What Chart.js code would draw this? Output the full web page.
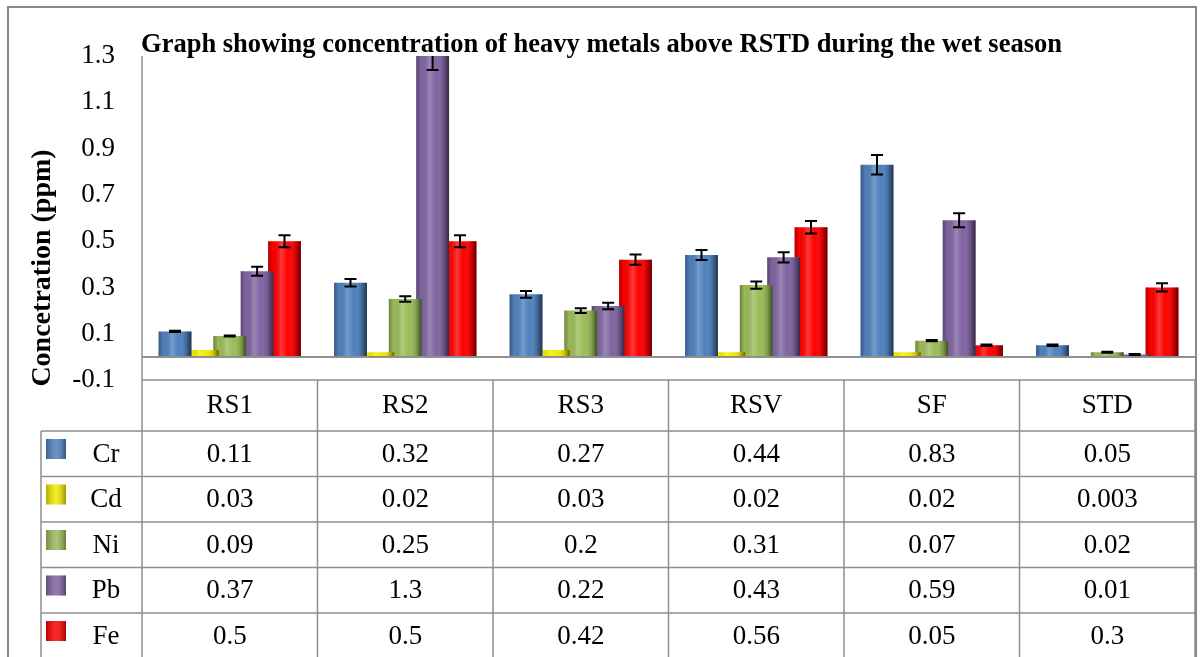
<!DOCTYPE html>
<html>
<head>
<meta charset="utf-8">
<title>Heavy metals - wet season</title>
<script src="https://cdn.jsdelivr.net/npm/chart.js@4.4.1/dist/chart.umd.min.js"></script>
<style>
  body { margin: 0; background: #fff; }
  canvas { display: block; }
</style>
</head>
<body>
<canvas id="chart" width="1203" height="657"></canvas>
<script>
const categories = ["RS1", "RS2", "RS3", "RSV", "SF", "STD"];
const metals = ["Cr", "Cd", "Ni", "Pb", "Fe"];

const crValues = [0.11, 0.32, 0.27, 0.44, 0.83, 0.05];
const cdValues = [0.03, 0.02, 0.03, 0.02, 0.02, 0.003];
const niValues = [0.09, 0.25, 0.2, 0.31, 0.07, 0.02];
const pbValues = [0.37, 1.3, 0.22, 0.43, 0.59, 0.01];
const feValues = [0.5, 0.5, 0.42, 0.56, 0.05, 0.3];

// error bar half-widths
const crErrors = [0.003, 0.016, 0.015, 0.022, 0.042, 0.003];
const cdErrors = [0, 0, 0, 0, 0, 0];
const niErrors = [0.002, 0.012, 0.01, 0.016, 0.003, 0.002];
const pbErrors = [0.019, 0.06, 0.014, 0.022, 0.03, 0.002];
const feErrors = [0.026, 0.026, 0.022, 0.027, 0.003, 0.018];

const yTicks = [-0.1, 0.1, 0.3, 0.5, 0.7, 0.9, 1.1, 1.3];

const titleText = "Graph showing concentration of heavy metals above RSTD during the wet season";
const yTitleText = "Concetration (ppm)";

const seriesValues = [crValues, cdValues, niValues, pbValues, feValues];
const seriesErrors = [crErrors, cdErrors, niErrors, pbErrors, feErrors];
const seriesColors = ["#4f81bd", "#f2ea00", "#9bbb59", "#8064a2", "#ff0000"];

const SERIF = "'Liberation Serif', 'Times New Roman', serif";
const LINE_GREY = "#8f8f8f";

const tablePlugin = {
    id: "dataTable",

    // cylinder-ish shading on top of each bar
    afterDatasetDraw(chart, args) {
        const ctx = chart.ctx;
        const area = chart.chartArea;
        ctx.save();
        ctx.beginPath();
        ctx.rect(area.left, area.top, area.right - area.left, area.bottom - area.top);
        ctx.clip();
        args.meta.data.forEach((bar) => {
            const p = bar.getProps(["x", "y", "base", "width"], true);
            const left = p.x - p.width / 2;
            const top = Math.min(p.y, p.base);
            const h = Math.abs(p.base - p.y);
            const g = ctx.createLinearGradient(left, 0, left + p.width, 0);
            g.addColorStop(0, "rgba(0,0,0,0.30)");
            g.addColorStop(0.15, "rgba(0,0,0,0)");
            g.addColorStop(0.4, "rgba(255,255,255,0.22)");
            g.addColorStop(0.6, "rgba(255,255,255,0)");
            g.addColorStop(0.85, "rgba(0,0,0,0.2)");
            g.addColorStop(1, "rgba(0,0,0,0.6)");
            ctx.fillStyle = g;
            ctx.fillRect(left, top, p.width, h);
        });
        ctx.restore();
    },

    afterDatasetsDraw(chart) {
        const ctx = chart.ctx;
        const area = chart.chartArea;
        const y = chart.scales.y;

        // zero line
        ctx.save();
        ctx.strokeStyle = LINE_GREY;
        ctx.lineWidth = 2;
        const y0 = Math.round(y.getPixelForValue(0));
        ctx.beginPath();
        ctx.moveTo(area.left, y0);
        ctx.lineTo(area.right, y0);
        ctx.stroke();

        // error bars
        ctx.beginPath();
        ctx.rect(area.left, area.top, area.right - area.left, area.bottom - area.top);
        ctx.clip();
        ctx.strokeStyle = "#000";
        ctx.lineWidth = 2;
        chart.data.datasets.forEach((ds, i) => {
            const meta = chart.getDatasetMeta(i);
            meta.data.forEach((bar, j) => {
                const err = seriesErrors[i][j];
                if (!err) return;
                const v = ds.data[j];
                const cx = bar.x;
                const hi = y.getPixelForValue(v + err);
                const lo = y.getPixelForValue(v - err);
                ctx.beginPath();
                ctx.moveTo(cx, hi);
                ctx.lineTo(cx, lo);
                ctx.moveTo(cx - 6, hi);
                ctx.lineTo(cx + 6, hi);
                ctx.moveTo(cx - 6, lo);
                ctx.lineTo(cx + 6, lo);
                ctx.stroke();
            });
        });
        ctx.restore();
    },

    afterDraw(chart) {
        const ctx = chart.ctx;
        const area = chart.chartArea;
        const x = chart.scales.x;
        const H = chart.height;
        const colW = (area.right - area.left) / categories.length;
        const headTop = area.bottom;
        const rowTop = x.bottom;
        const rowH = 45.5;
        const legendLeft = 41;

        ctx.save();
        ctx.strokeStyle = LINE_GREY;
        ctx.lineWidth = 1.5;

        // value axis line, running down through the table
        ctx.beginPath();
        ctx.moveTo(area.left, area.top);
        ctx.lineTo(area.left, H);
        ctx.stroke();

        // table grid
        ctx.beginPath();
        ctx.moveTo(area.left, headTop);
        ctx.lineTo(area.right, headTop);
        for (let r = 0; r <= metals.length; r++) {
            const yy = rowTop + r * rowH;
            ctx.moveTo(legendLeft, yy);
            ctx.lineTo(area.right, yy);
        }
        for (let k = 1; k <= categories.length; k++) {
            const xx = area.left + k * colW;
            ctx.moveTo(xx, headTop);
            ctx.lineTo(xx, H);
        }
        ctx.moveTo(legendLeft, rowTop);
        ctx.lineTo(legendLeft, H);
        ctx.stroke();

        // rows: legend key, name, values
        ctx.font = "27px " + SERIF;
        ctx.fillStyle = "#000";
        ctx.textAlign = "center";
        ctx.textBaseline = "middle";
        metals.forEach((name, i) => {
            const top = rowTop + i * rowH;
            const cy = top + rowH / 2;
            const kx = 46, ky = top + 8, ks = 20;
            ctx.fillStyle = seriesColors[i];
            ctx.fillRect(kx, ky, ks, ks);
            const g = ctx.createLinearGradient(kx, 0, kx + ks, 0);
            g.addColorStop(0, "rgba(0,0,0,0.25)");
            g.addColorStop(0.5, "rgba(255,255,255,0.15)");
            g.addColorStop(1, "rgba(0,0,0,0.35)");
            ctx.fillStyle = g;
            ctx.fillRect(kx, ky, ks, ks);
            ctx.fillStyle = "#000";
            ctx.fillText(name, 106, cy + 1);
            seriesValues[i].forEach((v, j) => {
                ctx.fillText(String(v), x.getPixelForValue(j), cy + 1);
            });
        });

        // chart title
        ctx.font = "bold 26.5px " + SERIF;
        ctx.textBaseline = "alphabetic";
        ctx.fillText(titleText, chart.width / 2, 52);

        // value axis title
        ctx.translate(50, 268);
        ctx.rotate(-Math.PI / 2);
        ctx.font = "bold 28px " + SERIF;
        ctx.fillText(yTitleText, 0, 0);
        ctx.setTransform(1, 0, 0, 1, 0, 0);

        // outer frame
        ctx.strokeStyle = "#888";
        ctx.lineWidth = 2;
        ctx.strokeRect(8, 7, 1188, H + 10);
        ctx.restore();
    }
};

const datasets = metals.map((name, i) => ({
    label: name,
    data: seriesValues[i],
    backgroundColor: seriesColors[i],
    borderWidth: 0,
    categoryPercentage: 0.78,
    barPercentage: 1.2
}));

new Chart(document.getElementById("chart"), {
    type: "bar",
    data: { labels: categories, datasets },
    options: {
        responsive: false,
        animation: false,
        layout: { padding: { left: 8, right: 8, top: 56, bottom: 226 } },
        plugins: {
            legend: { display: false },
            tooltip: { enabled: false },
            title: { display: false }
        },
        scales: {
            x: {
                grid: { display: false, drawTicks: false },
                border: { display: false },
                ticks: { color: "#000", font: { family: SERIF, size: 27 }, padding: 10 },
                afterFit: (scale) => { scale.height = 51; }
            },
            y: {
                min: -0.1,
                max: 1.3,
                afterBuildTicks: (scale) => { scale.ticks = yTicks.map((v) => ({ value: v })); },
                grid: { display: false, drawTicks: false },
                border: { display: false },
                ticks: {
                    color: "#000",
                    font: { family: SERIF, size: 27 },
                    padding: 27,
                    callback: (v) => Number(v).toFixed(1)
                },
                afterFit: (scale) => { scale.width = 134; }
            }
        }
    },
    plugins: [tablePlugin]
});
</script>
</body>
</html>
